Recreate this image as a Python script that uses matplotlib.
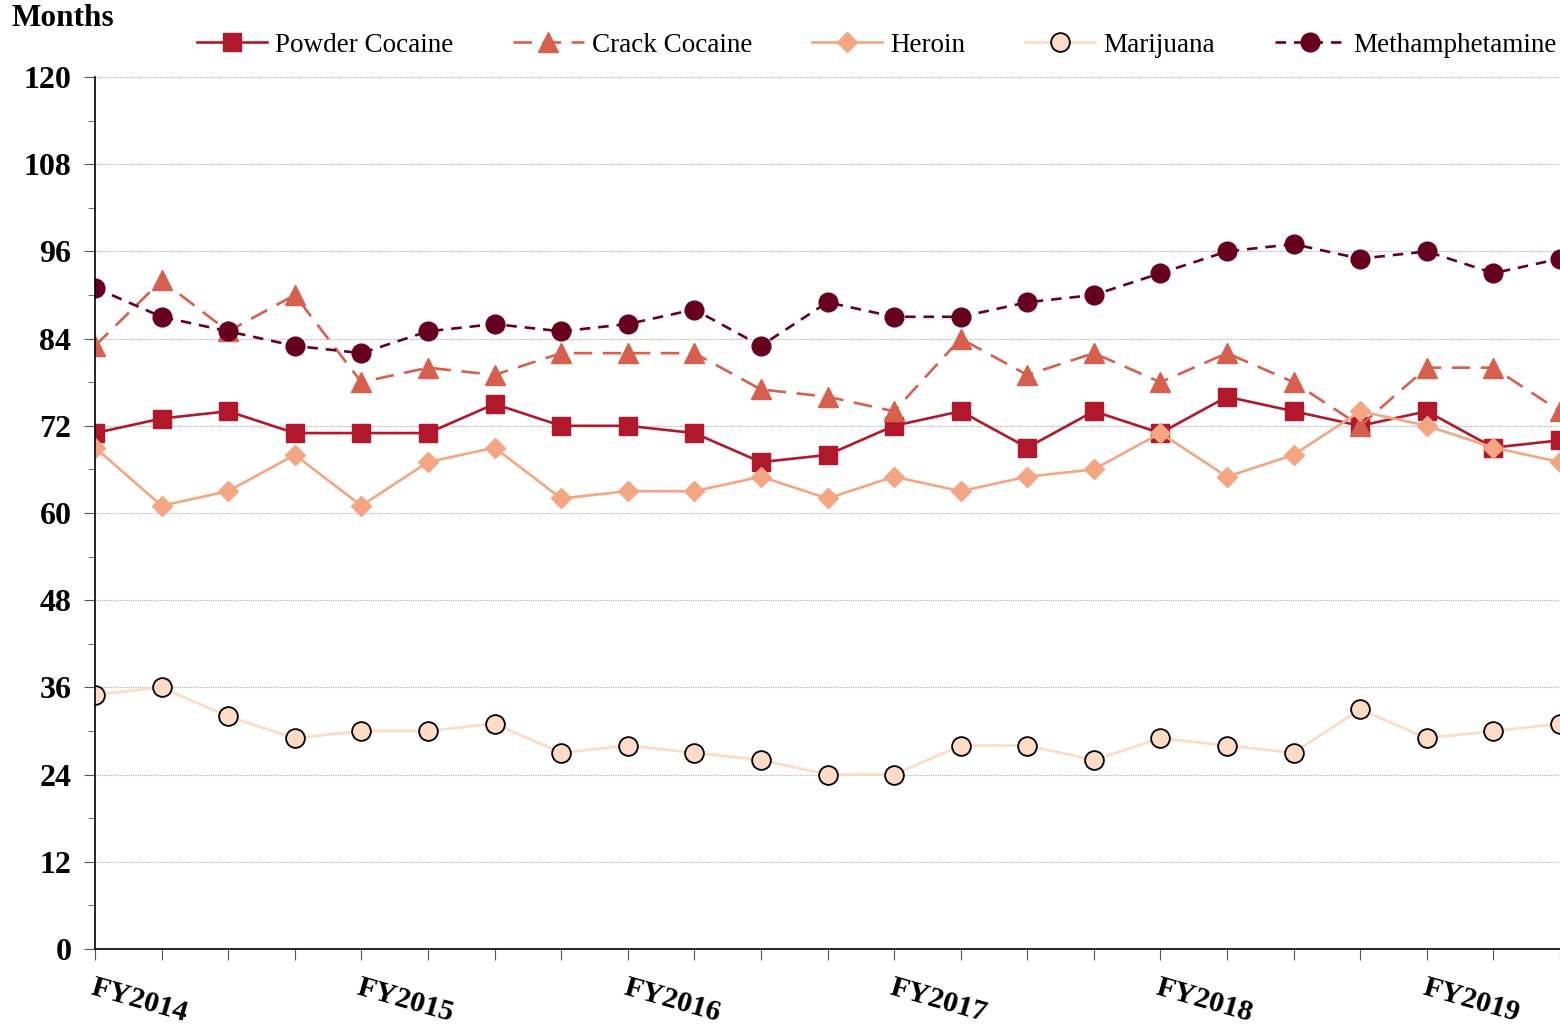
import matplotlib
matplotlib.use("Agg")
import matplotlib.pyplot as plt
from matplotlib.ticker import MultipleLocator

plt.rcParams['font.family'] = ['Liberation Serif', 'DejaVu Serif']

quarters = list(range(23))
fy_labels = ["FY2014", "", "", "", "FY2015", "", "", "", "FY2016", "", "", "",
             "FY2017", "", "", "", "FY2018", "", "", "", "FY2019", "", ""]

powder = [71, 73, 74, 71, 71, 71, 75, 72, 72, 71, 67, 68, 72, 74, 69, 74, 71, 76, 74, 72, 74, 69, 70]
crack = [83, 92, 85, 90, 78, 80, 79, 82, 82, 82, 77, 76, 74, 84, 79, 82, 78, 82, 78, 72, 80, 80, 74]
heroin = [69, 61, 63, 68, 61, 67, 69, 62, 63, 63, 65, 62, 65, 63, 65, 66, 71, 65, 68, 74, 72, 69, 67]
marijuana = [35, 36, 32, 29, 30, 30, 31, 27, 28, 27, 26, 24, 24, 28, 28, 26, 29, 28, 27, 33, 29, 30, 31]
meth = [91, 87, 85, 83, 82, 85, 86, 85, 86, 88, 83, 89, 87, 87, 89, 90, 93, 96, 97, 95, 96, 93, 95]

fig = plt.figure(figsize=(15.6, 10.32), dpi=100)
ax = fig.add_axes([95/1560, 1-949/1032, 1-95/1560, (949-77)/1032])

ax.plot(quarters, powder, color='#B2182B', lw=1.9, marker='s', ms=12.5,
        mec='#B2182B', label='Powder Cocaine')
ax.plot(quarters, crack, color='#D6604D', lw=1.9, ls=(0, (7, 4)), marker='^', ms=14,
        mec='#D6604D', label='Crack Cocaine')
ax.plot(quarters, heroin, color='#F4A582', lw=1.9, marker='D', ms=10,
        mec='#F4A582', label='Heroin')
ax.plot(quarters, marijuana, color='#FDDBC7', lw=1.9, marker='o', ms=13.5,
        mfc='#FDDBC7', mec='black', mew=1.3, label='Marijuana')
ax.plot(quarters, meth, color='#67001F', lw=1.9, ls=(0, (4, 3)), marker='o', ms=13.5,
        mec='#67001F', label='Methamphetamine')

ax.set_xlim(0, 22)
ax.set_ylim(0, 120)
ax.yaxis.set_major_locator(MultipleLocator(12))
ax.yaxis.set_minor_locator(MultipleLocator(6))
ax.grid(axis='y', which='major', color='#b0b0b0', ls=(0, (1, 1)), lw=0.8)
ax.set_axisbelow(True)

for s in ['top', 'right']:
    ax.spines[s].set_visible(False)
for s in ['left', 'bottom']:
    ax.spines[s].set_color('black')
    ax.spines[s].set_linewidth(1.2)

ax.set_xticks(quarters)
ax.set_xticklabels(fy_labels, rotation=-16, ha='left', va='top',
                   rotation_mode='anchor', fontsize=21.5, fontweight='bold')
ax.tick_params(axis='x', direction='out', length=8, color='#555555', pad=10)
ax.tick_params(axis='y', which='major', direction='out', length=8, color='#555555',
               labelsize=23, pad=9)
ax.tick_params(axis='y', which='minor', direction='out', length=5, color='#555555')
for lab in ax.get_yticklabels():
    lab.set_fontweight('bold')

fig.text(12/1560, 1-19/1032, 'Months', fontsize=22.5, fontweight='bold',
         ha='left', va='center')

fig.legend(loc='center', bbox_to_anchor=(0.562, 1-45/1032), ncol=5, frameon=False,
           fontsize=19.5, handlelength=2.6, handletextpad=0.3, columnspacing=2.2,
           borderaxespad=0)

fig.savefig('out.png', dpi=100)
